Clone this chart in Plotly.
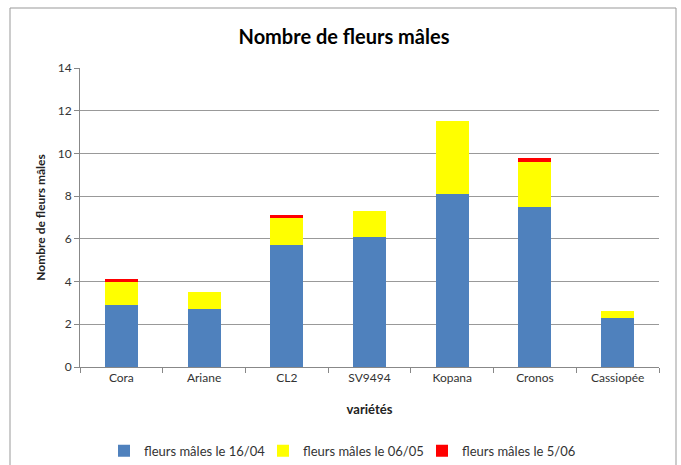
import plotly.graph_objects as go

categories = ["Cora", "Ariane", "CL2", "SV9494", "Kopana", "Cronos", "Cassiopée"]
fleurs_1604 = [2.9, 2.7, 5.7, 6.1, 8.1, 7.5, 2.3]
fleurs_0605 = [1.1, 0.8, 1.3, 1.2, 3.4, 2.1, 0.3]
fleurs_0506 = [0.1, 0.0, 0.1, 0.0, 0.0, 0.2, 0.0]
series_names = ["fleurs mâles le 16/04", "fleurs mâles le 06/05", "fleurs mâles le 5/06"]
colors = ["#4F81BD", "#FFFF00", "#FF0000"]

font_family = "Lato, 'Open Sans', sans-serif"

W, H = 681, 465
L, T = 80, 68
fig = go.Figure()
for name, vals, col in zip(series_names, [fleurs_1604, fleurs_0605, fleurs_0506], colors):
    fig.add_trace(go.Bar(x=categories, y=vals, name=name,
                         marker=dict(color=col, line=dict(width=0))))

fig.update_layout(
    barmode="stack",
    bargap=0.6,
    width=W, height=H,
    margin=dict(l=L, r=22, t=T, b=H - T - 299, autoexpand=False),
    paper_bgcolor="white", plot_bgcolor="white",
    font=dict(family=font_family, size=12, color="#222"),
    title=dict(text="<b>Nombre de fleurs mâles</b>", x=344 / W, xanchor="center",
               y=1 - 37 / H, yanchor="middle",
               font=dict(size=20, color="black", family=font_family)),
    showlegend=True,
    legend=dict(orientation="h", x=(104 - 80) / 579, xanchor="left", y=-0.28, yanchor="middle",
                font=dict(size=13, color="#333"), traceorder="normal",
                itemwidth=30, tracegroupgap=0,
                entrywidth=114, entrywidthmode="pixels"),
    xaxis=dict(
        title=dict(text="<b>variétés</b>", font=dict(size=13, color="#222"), standoff=20),
        automargin=False,
        showline=True, linecolor="#888", linewidth=1,
        ticks="outside", tickson="boundaries", ticklen=5, tickcolor="#888",
        tickfont=dict(size=12, color="#333"),
        showgrid=False,
    ),
    yaxis=dict(
        title=dict(text="<b>Nombre de fleurs mâles</b>", font=dict(size=12, color="#222"), standoff=9),
        automargin=False,
        range=[0, 14], dtick=2,
        showline=True, linecolor="#888", linewidth=1,
        ticks="outside", ticklen=5, tickcolor="#888",
        showgrid=True, gridcolor="#999", gridwidth=1,
        tickfont=dict(size=12, color="#333"),
        zeroline=False,
    ),
)

# outer chart border
fig.add_shape(type="rect", xref="paper", yref="paper",
              x0=(10 - 80) / 579, x1=(676 - 80) / 579,
              y0=-0.4, y1=(367 - 8) / 299,
              line=dict(color="#999", width=1), layer="below")

fig.write_html(
    "out.html",
    config={"displayModeBar": False},
    post_script=("document.documentElement.style.overflow='hidden';"
                 "document.body.style.margin='0';document.body.style.overflow='hidden';"),
)
